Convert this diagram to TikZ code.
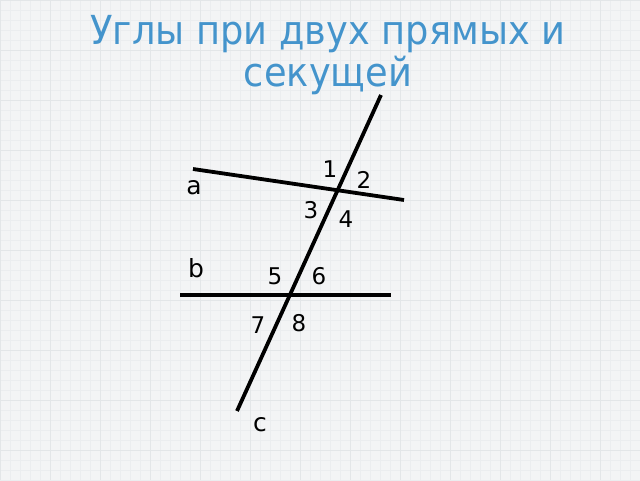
\documentclass[tikz,border=0pt]{standalone}
\usepackage{fontspec}
\setmainfont{DejaVu Sans}
\definecolor{bgcol}{HTML}{F3F4F5}
\definecolor{gridminor}{HTML}{EBEDEF}
\definecolor{gridmajor}{HTML}{E3E6E8}
\definecolor{titlecol}{HTML}{4494CC}
\tikzset{
  geoline/.style={line width=3.8pt, black, line cap=butt},
  lbl/.style={font=\fontsize{23}{23}\selectfont, text=black, inner sep=0pt},
  lett/.style={font=\fontsize{25}{25}\selectfont, text=black, inner sep=0pt},
  ttl/.style={font=\fontsize{40}{40}\selectfont, text=titlecol, inner sep=0pt, anchor=base},
  gminor/.style={gridminor, line width=0.4pt},
  gmajor/.style={gridmajor, line width=0.6pt}
}
\begin{document}
\begin{tikzpicture}[x=1pt,y=-1pt]
\fill[bgcol] (0,0) rectangle (640,480);
\useasboundingbox (0,0) rectangle (640,480);
\foreach \i in {0,10,...,640} \draw[gminor] (\i,0) -- (\i,480);
\foreach \j in {0,10,...,480} \draw[gminor] (0,\j) -- (640,\j);
\foreach \i in {0,50,...,640} \draw[gmajor] (\i,0) -- (\i,480);
\foreach \j in {0,50,...,480} \draw[gmajor] (0,\j) -- (640,\j);
% title
\node[ttl] (t1) at (328,44) {\scalebox{0.92}[1]{Углы при двух прямых и}};
\node[ttl] (t2) at (328,86) {\scalebox{0.92}[1]{секущей}};
% lines
\coordinate (a1) at (193,169);
\coordinate (a2) at (404,200);
\coordinate (b1) at (180,295);
\coordinate (b2) at (391,295);
\coordinate (c1) at (381,95);
\coordinate (c2) at (237,411);
\draw[geoline] (a1) -- (a2);
\draw[geoline] (b1) -- (b2);
\draw[geoline] (c1) -- (c2);
% labels
\node[lbl] (n1) at (330,169) {1};
\node[lbl] (n2) at (364,180) {2};
\node[lbl] (n3) at (311,210) {3};
\node[lbl] (n4) at (346,219) {4};
\node[lbl] (n5) at (275,276) {5};
\node[lbl] (n6) at (319,276) {6};
\node[lbl] (n7) at (258,325) {7};
\node[lbl] (n8) at (299,323) {8};
\node[lett] (la) at (194,188) {a};
\node[lett] (lb) at (196,268) {b};
\node[lett] (lc) at (260,425) {c};
\end{tikzpicture}
\end{document}
